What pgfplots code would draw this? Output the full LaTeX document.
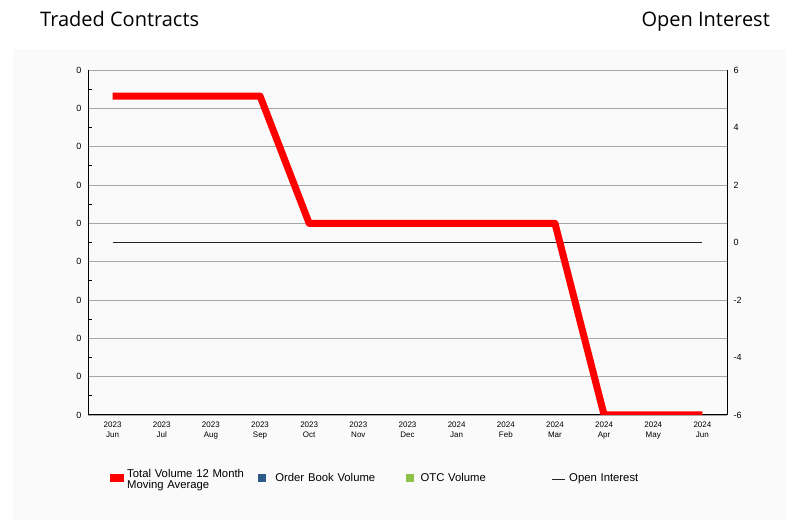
\documentclass[border=0pt]{standalone}
\usepackage{pgfplots}
\pgfplotsset{compat=1.18}
\usepackage{fontspec}
\setmainfont{Liberation Sans}
\newfontfamily\titlefont{Open Sans}
\definecolor{panel}{HTML}{FAFAFA}
\definecolor{gridc}{HTML}{A8A8A8}
\definecolor{obv}{HTML}{2E5A8A}
\definecolor{otc}{HTML}{8BC34A}

\begin{document}
\begin{tikzpicture}[x=1pt,y=1pt]
\path[use as bounding box] (0,0) rectangle (801,524);
\fill[panel] (13,4) rectangle (786,475);
\node[anchor=base west, inner sep=0, font=\titlefont\fontsize{20}{22}\selectfont] at (40,497.5) {Traded Contracts};
\node[anchor=base east, inner sep=0, font=\titlefont\fontsize{20}{22}\selectfont] at (770,497.5) {Open Interest};

% right axis: open interest
\begin{axis}[
    at={(88pt,109pt)}, anchor=south west,
    scale only axis, width=639pt, height=345pt,
    xmin=-0.5, xmax=12.5, ymin=-6, ymax=6,
    axis x line=none, axis y line*=right,
    axis line style={black, line width=1pt},
    ytick={-6,-4,...,6}, major tick length=0pt,
    yticklabel style={font=\fontsize{9}{10}\selectfont, xshift=3pt},
    /pgf/number format/assume math mode=true,
]
\addplot[color=black!85, line width=0.9pt] coordinates {
 (0,0) (1,0) (2,0) (3,0) (4,0) (5,0) (6,0) (7,0) (8,0) (9,0) (10,0) (11,0) (12,0)};
\end{axis}

% left axis: traded contracts
\begin{axis}[
    at={(88pt,109pt)}, anchor=south west,
    scale only axis, width=639pt, height=345pt,
    xmin=-0.5, xmax=12.5, ymin=0, ymax=9,
    axis x line*=bottom, axis y line*=left,
    axis line style={black, line width=1pt},
    ymajorgrids, grid style={gridc, line width=0.9pt},
    ytick={0,...,9}, yticklabel={0},
    minor y tick num=1, tick align=inside,
    major tick length=0pt, minor tick length=4pt,
    minor tick style={black, line width=0.8pt},
    yticklabel style={font=\fontsize{9}{10}\selectfont, xshift=-3pt},
    xtick={0,...,12},
    xticklabels={{2023\\Jun},{2023\\Jul},{2023\\Aug},{2023\\Sep},{2023\\Oct},{2023\\Nov},{2023\\Dec},{2024\\Jan},{2024\\Feb},{2024\\Mar},{2024\\Apr},{2024\\May},{2024\\Jun}},
    xticklabel style={align=center, font=\fontsize{8}{10.5}\selectfont, yshift=-3pt},
    legend columns=4, legend cell align=left,
    legend style={at={(0.0297,-0.148)}, anchor=north west, draw=none, fill=none,
        font=\fontsize{11.3}{12.5}\selectfont,
        nodes={text width=128pt, inner sep=0pt},
        /tikz/every odd column/.append style={column sep=3pt},
        /tikz/every even column/.append style={column sep=3pt}},
]
\addplot[color=red, line width=7pt, line join=round,
    legend image code/.code={\fill[red, draw=none] (0pt,-6pt) rectangle (14pt,2pt);}]
    coordinates {(0,8.32) (1,8.32) (2,8.32) (3,8.32) (4,5.0) (5,5.0) (6,5.0) (7,5.0) (8,5.0) (9,5.0) (10,0) (11,0) (12,0)};
\addlegendentry{\begin{tabular}[c]{@{}l@{}}Total Volume 12 Month\\[-1pt]Moving Average\end{tabular}}
\addlegendimage{legend image code/.code={\path (14pt,0pt); \fill[obv, draw=none] (0pt,-6pt) rectangle (8pt,2.5pt);}}
\addlegendentry{\raisebox{-3pt}{Order Book Volume}}
\addlegendimage{legend image code/.code={\path (11pt,0pt); \fill[otc, draw=none] (0pt,-6pt) rectangle (8pt,2.5pt);}}
\addlegendentry{\raisebox{-3pt}{OTC Volume}}
\addlegendimage{legend image code/.code={\path (14pt,0pt); \draw[black!85, line width=0.9pt] (0pt,-3pt) -- (13pt,-3pt);}}
\addlegendentry{\raisebox{-3pt}{Open Interest}}
\end{axis}
\end{tikzpicture}
\end{document}
